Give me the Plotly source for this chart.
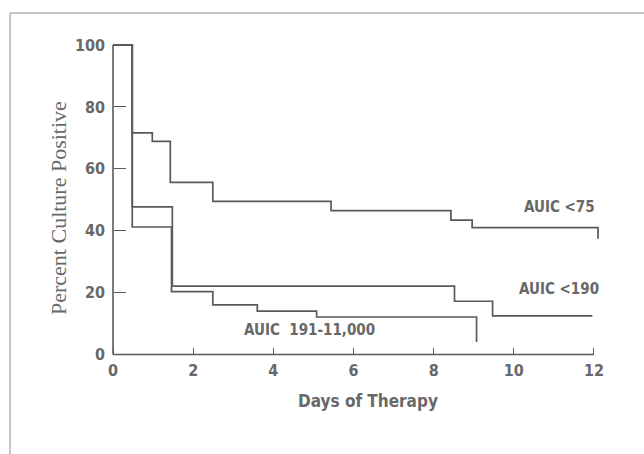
import plotly.graph_objects as go

# ---- data ----
days_lt75 = [0, 0.48, 0.98, 1.43, 2.49, 5.44, 8.43, 8.96, 12.1]
pct_lt75 = [100, 71.6, 68.9, 55.6, 49.5, 46.5, 43.4, 41.0, 37.4]

days_lt190 = [0, 0.48, 1.48, 8.52, 9.47, 11.96]
pct_lt190 = [100, 47.7, 22.1, 17.2, 12.5, 12.5]

days_191 = [0, 0.48, 1.46, 2.49, 3.6, 5.08, 9.07]
pct_191 = [100, 41.2, 20.3, 16.0, 14.0, 12.1, 4.0]

x_ticks = [0, 2, 4, 6, 8, 10, 12]
y_ticks = [0, 20, 40, 60, 80, 100]

labels = ["AUIC <75", "AUIC <190", "AUIC\u00a0 191-11,000"]

LINE = "#5a5a5a"
TXT = "#686868"
COND = "DejaVu Sans Condensed, Liberation Sans Narrow, DejaVu Sans, sans-serif"

W, H = 644, 454
ml, mr, mt, mb = 109, 42, 42, 98
pw, ph = W - ml - mr, H - mt - mb
xr = [-0.1, 12.2]
yr = [-0.5, 101]


def px_x(v):
    return (v - xr[0]) / (xr[1] - xr[0])


def px_y(v):
    return (v - yr[0]) / (yr[1] - yr[0])


fig = go.Figure()
for xs, ys in [(days_lt75, pct_lt75), (days_lt190, pct_lt190), (days_191, pct_191)]:
    fig.add_trace(go.Scatter(x=xs, y=ys, mode="lines", line=dict(shape="hv", color=LINE, width=1.7),
                             showlegend=False, hoverinfo="skip"))

tickfont = dict(family=COND, size=16, color=TXT, weight="bold")

fig.update_layout(
    width=W, height=H,
    margin=dict(l=ml, r=mr, t=mt, b=mb),
    paper_bgcolor="white", plot_bgcolor="white",
    xaxis=dict(range=xr, tickvals=x_ticks, ticktext=[str(t) for t in x_ticks], showgrid=False,
               zeroline=False, showline=False, ticks="inside", ticklen=6, tickwidth=1.3,
               tickcolor=LINE, tickfont=tickfont, anchor="free", position=px_y(0),
               ticklabelstandoff=5),
    yaxis=dict(range=yr, tickvals=y_ticks, ticktext=[str(t) for t in y_ticks], showgrid=False,
               zeroline=False, showline=False, ticks="inside", ticklen=12, tickwidth=1.3,
               tickcolor=LINE, tickfont=tickfont, anchor="free", position=px_x(0),
               ticklabelstandoff=8),
    shapes=[
        dict(type="line", xref="x", yref="y", x0=0, x1=12, y0=0, y1=0, line=dict(color=LINE, width=1.6)),
        dict(type="line", xref="x", yref="y", x0=0, x1=0, y0=0, y1=100, line=dict(color=LINE, width=1.6)),
        # frame of the scanned figure
        dict(type="line", xref="paper", yref="paper", x0=(10 - ml) / pw, x1=(10 - ml) / pw,
             y0=(mt + ph - H) / ph, y1=(mt + ph - 13) / ph, line=dict(color="#b4b4b4", width=1.5)),
        dict(type="line", xref="paper", yref="paper", x0=(10 - ml) / pw, x1=(W - ml) / pw,
             y0=(mt + ph - 13) / ph, y1=(mt + ph - 13) / ph, line=dict(color="#b4b4b4", width=1.5)),
    ],
    annotations=[
        dict(text="Percent Culture Positive", xref="paper", yref="paper",
             x=(58 - ml) / pw, y=(mt + ph - 208) / ph, textangle=-90, showarrow=False,
             xanchor="center", yanchor="middle",
             font=dict(family="Liberation Serif, Times New Roman, serif", size=22, color=TXT)),
        dict(text="Days of Therapy", xref="paper", yref="paper",
             x=(368 - ml) / pw, y=(mt + ph - 401) / ph, showarrow=False,
             xanchor="center", yanchor="middle",
             font=dict(family=COND, size=17, color=TXT, weight="bold")),
        dict(text=labels[0], x=12.08, y=47.7, xanchor="right", yanchor="middle", showarrow=False,
             font=dict(family=COND, size=15, color=TXT, weight="bold")),
        dict(text=labels[1], x=12.18, y=21.2, xanchor="right", yanchor="middle", showarrow=False,
             font=dict(family=COND, size=15, color=TXT, weight="bold")),
        dict(text=labels[2], x=3.22, y=7.9, xanchor="left", yanchor="middle", showarrow=False,
             font=dict(family=COND, size=15, color=TXT, weight="bold")),
    ],
)

fig.write_html("out.html")
